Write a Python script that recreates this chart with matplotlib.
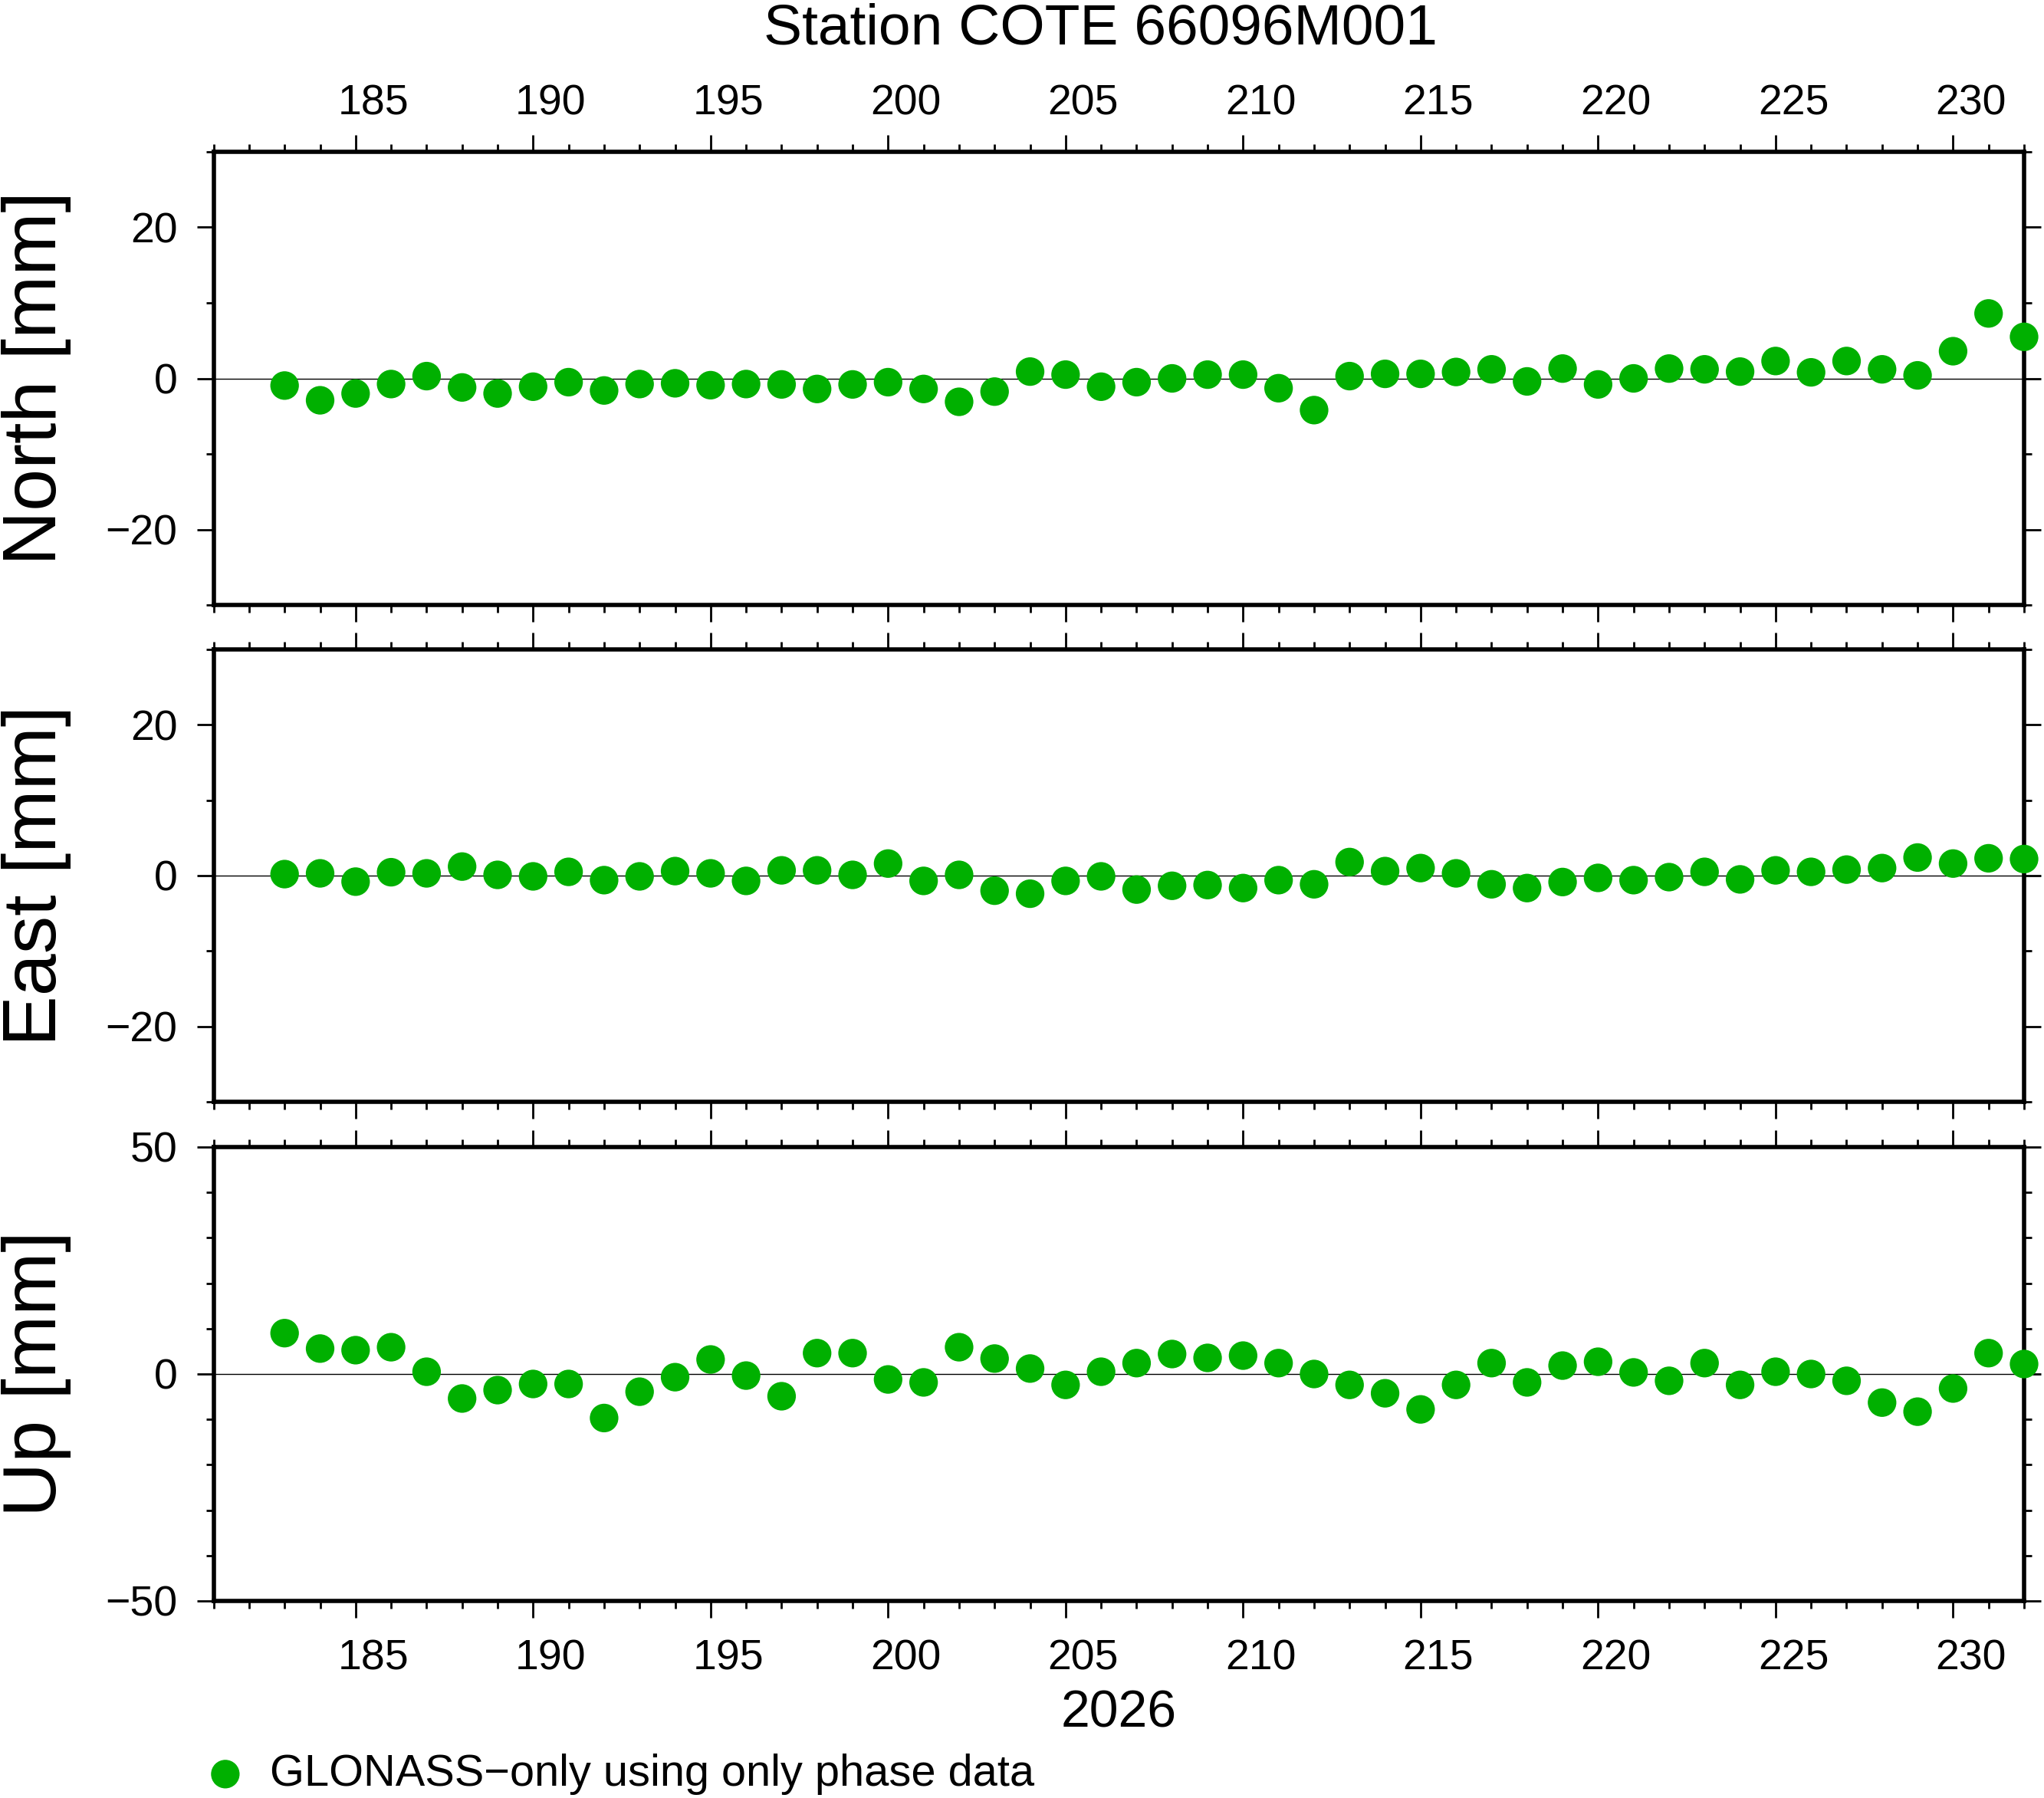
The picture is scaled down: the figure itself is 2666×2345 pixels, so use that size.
import numpy as np
import matplotlib
matplotlib.use("Agg")
import matplotlib.pyplot as plt
from matplotlib.ticker import MultipleLocator
from matplotlib.transforms import ScaledTranslation

plt.rcParams['font.family'] = ['Liberation Sans', 'DejaVu Sans']

# day of year 2026
doy = [183, 184, 185, 186, 187, 188, 189, 190, 191, 192,
       193, 194, 195, 196, 197, 198, 199, 200, 201, 202,
       203, 204, 205, 206, 207, 208, 209, 210, 211, 212,
       213, 214, 215, 216, 217, 218, 219, 220, 221, 222,
       223, 224, 225, 226, 227, 228, 229, 230, 231, 232]

north = [-0.95, -2.9, -2.0, -0.75, 0.3, -1.2, -2.0, -1.1, -0.5, -1.6,
         -0.75, -0.65, -0.9, -0.75, -0.8, -1.4, -0.8, -0.5, -1.4, -3.1,
         -1.75, 0.9, 0.5, -1.1, -0.5, 0.0, 0.5, 0.5, -1.3, -4.2,
         0.3, 0.6, 0.6, 0.85, 1.2, -0.4, 1.3, -0.8, 0.0, 1.3,
         1.2, 0.9, 2.3, 0.8, 2.3, 1.2, 0.4, 3.6, 8.6, 5.5]

east = [0.2, 0.3, -0.8, 0.45, 0.3, 1.2, 0.1, -0.1, 0.5, -0.6,
        -0.1, 0.6, 0.3, -0.7, 0.7, 0.7, 0.1, 1.6, -0.7, 0.1,
        -2.0, -2.4, -0.7, -0.1, -1.85, -1.35, -1.25, -1.65, -0.6, -1.15,
        1.8, 0.6, 1.0, 0.3, -1.15, -1.65, -0.85, -0.3, -0.6, -0.2,
        0.5, -0.5, 0.7, 0.5, 0.8, 1.0, 2.4, 1.6, 2.3, 2.2]

up = [9.0, 5.6, 5.25, 5.9, 0.5, -5.4, -3.55, -2.2, -2.2, -9.7,
      -3.9, -0.7, 3.2, -0.35, -4.9, 4.6, 4.6, -1.2, -1.85, 5.9,
      3.4, 1.2, -2.4, 0.5, 2.4, 4.4, 3.55, 4.05, 2.4, 0.0,
      -2.4, -4.25, -7.8, -2.4, 2.4, -1.85, 1.85, 2.7, 0.35, -1.5,
      2.4, -2.4, 0.5, 0.0, -1.5, -6.3, -8.3, -3.2, 4.6, 2.2]

panels = [('North [mm]', north, 30, 20),
          ('East [mm]', east, 30, 20),
          ('Up [mm]', up, 50, 50)]

W, H, DPI = 2666, 2345, 200
fig = plt.figure(figsize=(W / DPI, H / DPI), dpi=DPI)

left, right = 278.6 / W, 2640 / W
tops = [198, 847, 1496]
bottoms = [789, 1437, 2088]
green = '#00b000'

axes = []
for i, (label, vals, lim, major) in enumerate(panels):
    ax = fig.add_axes([left, 1 - bottoms[i] / H, right - left, (bottoms[i] - tops[i]) / H])
    ax.axhline(0, color='k', lw=0.5, zorder=1)
    sc = ax.scatter(doy, vals, s=180, color=green, edgecolors='none',
                    zorder=3, clip_on=False)
    ax.set_xlim(181, 232)
    ax.set_ylim(-lim, lim)
    ax.xaxis.set_major_locator(MultipleLocator(5))
    ax.xaxis.set_minor_locator(MultipleLocator(1))
    ax.yaxis.set_major_locator(MultipleLocator(major))
    ax.yaxis.set_minor_locator(MultipleLocator(10))
    for s in ax.spines.values():
        s.set_linewidth(2.0)
    ax.tick_params(which='both', direction='out', top=True, right=True,
                   bottom=True, left=True, labelbottom=False, labeltop=False,
                   labelright=False, labelsize=20, width=1.0)
    ax.tick_params(which='major', length=8)
    ax.tick_params(which='minor', length=3.6)
    ax.tick_params(axis='y', which='major', pad=9)
    ax.set_ylabel(label, fontsize=35.5, va='center')
    ax.yaxis.set_label_coords(-0.098, 0.5)
    axes.append(ax)

# day labels sit in the middle of the day interval
shift = ScaledTranslation(23.15 / DPI, 0, fig.dpi_scale_trans)

axes[0].tick_params(axis='x', which='major', labeltop=True, pad=5)
axes[2].tick_params(axis='x', which='major', labelbottom=True, pad=9.7)
for ax in (axes[0], axes[2]):
    for lab in ax.get_xticklabels(which='major'):
        lab.set_transform(lab.get_transform() + shift)

axes[2].set_xlabel('2026', fontsize=24.5)
axes[2].xaxis.set_label_coords(0.5, -0.1926)

fig.suptitle('Station COTE 66096M001', x=1435 / W, y=1 - 57 / H,
             ha='center', va='baseline', fontsize=27)

fig.legend(handles=[sc], labels=['GLONASS\u2212only using only phase data'],
           loc='center left', bbox_to_anchor=(265 / W, 1 - 2314 / H),
           frameon=False, fontsize=20.8, handlelength=1.0, handletextpad=0.5,
           borderpad=0, borderaxespad=0, scatterpoints=1)

fig.savefig('out.png', dpi=DPI)
